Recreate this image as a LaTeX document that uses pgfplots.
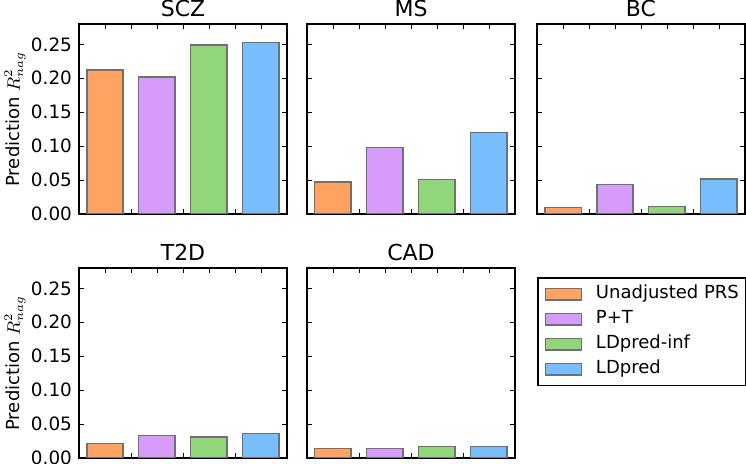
\documentclass[border=0pt]{standalone}
\usepackage{fontspec}
\setmainfont{DejaVu Sans}
\usepackage{pgfplots}
\pgfplotsset{compat=1.18}

\definecolor{cunadj}{RGB}{255,163,98}
\definecolor{cpt}{RGB}{214,155,251}
\definecolor{cinf}{RGB}{145,214,122}
\definecolor{cldp}{RGB}{120,190,255}
\definecolor{edgegray}{RGB}{112,112,112}

\pgfplotsset{
  panel/.style={
    scale only axis, width=104pt, height=95pt,
    anchor=south west,
    xmin=0, xmax=4, ymin=0, ymax=0.28,
    ybar, bar width=0.7, bar shift=0pt,
    xtick={0.5,1,1.5,2,2.5,3,3.5}, xticklabels={},
    ytick={0,0.05,0.10,0.15,0.20,0.25},
    scaled y ticks=false,
    tick align=inside, major tick length=2.5pt,
    tick style={black, line width=0.4pt},
    axis line style={line width=0.6pt},
    yticklabel style={font=\fontsize{9.2}{10}\selectfont,
      /pgf/number format/fixed, /pgf/number format/fixed zerofill,
      /pgf/number format/precision=2, /pgf/number format/assume math mode=true},
    title style={at={(0.5,1)}, anchor=base, yshift=-2.4pt, font=\fontsize{11}{13}\selectfont},
    ylabel style={at={(axis description cs:-0.308,0.5)}, anchor=center, font=\fontsize{9}{10}\selectfont},
    every axis plot/.append style={draw=edgegray, line width=0.7pt},
  },
  nolab/.style={yticklabels={}},
}

\begin{document}
\begin{tikzpicture}
\useasboundingbox (0,0) rectangle (373pt,232pt);

% SCZ
\begin{axis}[panel, at={(39.5pt,125pt)}, title={SCZ}, ylabel={Prediction $R^2_{nag}$}]
\addplot[fill=cunadj] coordinates {(0.5,0.212)};
\addplot[fill=cpt] coordinates {(1.5,0.2016)};
\addplot[fill=cinf] coordinates {(2.5,0.249)};
\addplot[fill=cldp] coordinates {(3.5,0.253)};
\end{axis}

% MS
\begin{axis}[panel, nolab, at={(153.5pt,125pt)}, title={MS}]
\addplot[fill=cunadj] coordinates {(0.5,0.0473)};
\addplot[fill=cpt] coordinates {(1.5,0.0976)};
\addplot[fill=cinf] coordinates {(2.5,0.0508)};
\addplot[fill=cldp] coordinates {(3.5,0.1198)};
\end{axis}

% BC
\begin{axis}[panel, nolab, at={(268.5pt,125pt)}, title={BC}]
\addplot[fill=cunadj] coordinates {(0.5,0.0094)};
\addplot[fill=cpt] coordinates {(1.5,0.0439)};
\addplot[fill=cinf] coordinates {(2.5,0.0113)};
\addplot[fill=cldp] coordinates {(3.5,0.0518)};
\end{axis}

% T2D
\begin{axis}[panel, at={(39.5pt,3pt)}, title={T2D}, ylabel={Prediction $R^2_{nag}$}]
\addplot[fill=cunadj] coordinates {(0.5,0.0217)};
\addplot[fill=cpt] coordinates {(1.5,0.033)};
\addplot[fill=cinf] coordinates {(2.5,0.031)};
\addplot[fill=cldp] coordinates {(3.5,0.0364)};
\end{axis}

% CAD, carries the legend
\begin{axis}[panel, nolab, at={(153.5pt,3pt)}, title={CAD},
  legend cell align=left,
  legend image code/.code={\draw[#1, line width=0.7pt] (0pt,-2.8pt) rectangle (18pt,2.8pt);
    \path (24.8pt,0pt);},
  legend style={at={(1.1077,0.951)}, anchor=north west, draw=black, line width=0.6pt,
    font=\fontsize{9}{10}\selectfont, row sep=0pt, inner xsep=3.5pt, inner ysep=1.9pt,
    nodes={inner xsep=0pt, inner ysep=2pt, text height=6.5pt, text depth=2pt}},
]
\addplot[fill=cunadj] coordinates {(0.5,0.0143)};
\addplot[fill=cpt] coordinates {(1.5,0.0138)};
\addplot[fill=cinf] coordinates {(2.5,0.0167)};
\addplot[fill=cldp] coordinates {(3.5,0.0172)};
\legend{Unadjusted PRS, P+T, LDpred-inf, LDpred}
\end{axis}
\end{tikzpicture}
\end{document}
